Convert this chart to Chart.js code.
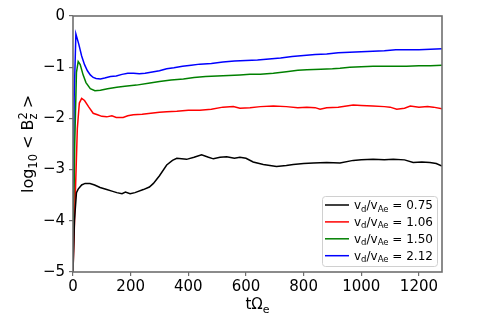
<!DOCTYPE html>
<html lang="en">
<head>
<meta charset="UTF-8">
<title>log10 Bz^2</title>
<script src="https://cdn.jsdelivr.net/npm/chart.js"></script>
<style>
  html, body { margin: 0; padding: 0; background: #fff; }
  #wrap { width: 491px; height: 320px; }
</style>
</head>
<body>
<div id="wrap"><canvas id="myChart" width="491" height="320"></canvas></div>
<script>
// --- data ---
const xTicks = [0, 200, 400, 600, 800, 1000, 1200];
const yTicks = [-5, -4, -3, -2, -1, 0];
const ratios = ['0.75', '1.06', '1.50', '2.12'];

const blackT = [0, 5, 12, 18, 30, 42, 59, 75, 94, 117, 135, 152, 170, 182, 198, 215, 244, 265, 279, 300, 325, 345, 360, 394, 420, 446, 470, 487, 510, 533, 560, 579, 600, 625, 660, 706, 740, 764, 800, 834, 880, 926, 972, 1000, 1041, 1080, 1111, 1150, 1180, 1210, 1238, 1260, 1280];
const blackV = [-5, -4.0, -3.45, -3.38, -3.3, -3.27, -3.27, -3.3, -3.35, -3.39, -3.42, -3.45, -3.47, -3.44, -3.47, -3.45, -3.39, -3.34, -3.27, -3.12, -2.91, -2.82, -2.78, -2.8, -2.76, -2.71, -2.76, -2.79, -2.76, -2.75, -2.78, -2.76, -2.78, -2.85, -2.9, -2.94, -2.92, -2.9, -2.88, -2.87, -2.86, -2.87, -2.82, -2.81, -2.8, -2.81, -2.8, -2.81, -2.86, -2.85, -2.86, -2.88, -2.93];

const redT = [0, 8, 15, 22, 30, 40, 55, 70, 85, 100, 117, 135, 150, 174, 190, 209, 240, 270, 300, 325, 360, 400, 440, 480, 520, 556, 579, 614, 650, 695, 740, 780, 811, 840, 857, 880, 920, 972, 1000, 1040, 1080, 1100, 1123, 1150, 1170, 1200, 1230, 1250, 1280];
const redV = [-5, -3.5, -2.2, -1.7, -1.61, -1.65, -1.78, -1.9, -1.93, -1.96, -1.97, -1.95, -1.98, -1.98, -1.95, -1.93, -1.92, -1.9, -1.88, -1.87, -1.86, -1.84, -1.84, -1.82, -1.78, -1.77, -1.8, -1.79, -1.77, -1.76, -1.77, -1.79, -1.78, -1.79, -1.82, -1.79, -1.78, -1.74, -1.75, -1.76, -1.77, -1.78, -1.82, -1.8, -1.76, -1.78, -1.77, -1.78, -1.81];

const greenT = [0, 6, 12, 18, 25, 35, 45, 60, 76, 95, 120, 152, 180, 220, 267, 300, 340, 383, 420, 460, 500, 540, 579, 614, 650, 695, 740, 780, 811, 860, 900, 926, 960, 1000, 1041, 1080, 1120, 1157, 1200, 1240, 1280];
const greenV = [-5, -2.5, -1.1, -0.89, -0.95, -1.15, -1.3, -1.42, -1.46, -1.45, -1.42, -1.39, -1.37, -1.35, -1.31, -1.28, -1.25, -1.23, -1.2, -1.18, -1.17, -1.16, -1.15, -1.14, -1.14, -1.12, -1.09, -1.06, -1.05, -1.04, -1.03, -1.02, -1.0, -0.99, -0.98, -0.98, -0.98, -0.98, -0.97, -0.97, -0.96];

const blueT = [0, 4, 10, 20, 30, 40, 50, 60, 70, 80, 95, 110, 130, 150, 170, 190, 210, 230, 250, 270, 300, 325, 350, 380, 410, 440, 480, 520, 560, 600, 640, 680, 720, 760, 800, 840, 880, 920, 960, 1000, 1040, 1080, 1120, 1160, 1200, 1240, 1280];
const blueV = [-5, -1.6, -0.35, -0.55, -0.78, -0.95, -1.07, -1.15, -1.2, -1.22, -1.23, -1.21, -1.18, -1.17, -1.14, -1.12, -1.12, -1.13, -1.12, -1.1, -1.07, -1.03, -1.01, -0.98, -0.96, -0.94, -0.93, -0.9, -0.88, -0.87, -0.86, -0.84, -0.82, -0.79, -0.77, -0.75, -0.74, -0.72, -0.71, -0.7, -0.69, -0.68, -0.66, -0.66, -0.66, -0.65, -0.64];

const colors = ['#000000', '#ff0000', '#008000', '#0000ff'];
const FONT = '"DejaVu Sans", sans-serif';
const SPINE = '#6e6e6e';

function pts(t, v) { return t.map((x, i) => ({ x: x, y: v[i] })); }
const series = [[blackT, blackV], [redT, redV], [greenT, greenV], [blueT, blueV]];

// spines, axis titles and legend drawn by hand (sub/superscripts)
const decor = {
  id: 'decor',
  afterDatasetsDraw(chart) {
    const ctx = chart.ctx;
    const a = chart.chartArea;
    ctx.save();
    ctx.strokeStyle = SPINE;
    ctx.lineWidth = 1.6;
    ctx.strokeRect(a.left, a.top, a.right - a.left, a.bottom - a.top);

    // x title: tΩe
    ctx.fillStyle = '#000';
    ctx.textBaseline = 'alphabetic';
    ctx.textAlign = 'left';
    const main = 't\u03A9';
    ctx.font = '15px ' + FONT;
    const mw = ctx.measureText(main).width;
    ctx.font = '11px ' + FONT;
    const sw = ctx.measureText('e').width;
    const x0 = (a.left + a.right) / 2 - (mw + sw) / 2;
    ctx.font = '15px ' + FONT;
    ctx.fillText(main, x0, 309);
    ctx.font = '11px ' + FONT;
    ctx.fillText('e', x0 + mw, 313);

    // y title: log10 < Bz^2 >
    ctx.translate(33, (a.top + a.bottom) / 2);
    ctx.rotate(-Math.PI / 2);
    const parts = [
      ['log', 16, 0], ['10', 11.5, 4], [' < B', 16, 0], ['2', 11.5, -6.5, true], ['z', 11.5, 4], [' >', 16, 0]
    ];
    let total = 0;
    const widths = [];
    for (const p of parts) {
      ctx.font = p[1] + 'px ' + FONT;
      const w = ctx.measureText(p[0]).width;
      widths.push(w);
      if (!p[3]) total += w;
    }
    let cx = -total / 2;
    parts.forEach((p, i) => {
      ctx.font = p[1] + 'px ' + FONT;
      ctx.fillText(p[0], cx, p[2]);
      if (!p[3]) cx += widths[i];
    });
    ctx.restore();

    // legend box
    ctx.save();
    const bx = 322, by = 196, bw = 115, bh = 70;
    ctx.fillStyle = 'rgba(255,255,255,0.8)';
    ctx.strokeStyle = '#d0d0d0';
    ctx.lineWidth = 1;
    ctx.beginPath();
    ctx.roundRect(bx + 0.5, by + 0.5, bw, bh, 3);
    ctx.fill();
    ctx.stroke();
    ratios.forEach((r, i) => {
      const y = 205 + i * 16.9;
      ctx.strokeStyle = colors[i];
      ctx.lineWidth = 1.5;
      ctx.beginPath();
      ctx.moveTo(325, y);
      ctx.lineTo(349, y);
      ctx.stroke();
      ctx.fillStyle = '#000';
      let x = 354;
      const base = y + 4;
      ctx.font = '12px ' + FONT;
      ctx.fillText('v', x, base); x += ctx.measureText('v').width;
      ctx.font = '8.5px ' + FONT;
      ctx.fillText('d', x, base + 2.5); x += ctx.measureText('d').width;
      ctx.font = '12px ' + FONT;
      ctx.fillText('/v', x, base); x += ctx.measureText('/v').width;
      ctx.font = '8.5px ' + FONT;
      ctx.fillText('Ae', x, base + 2.5); x += ctx.measureText('Ae').width;
      ctx.font = '12px ' + FONT;
      ctx.fillText(' = ' + r, x, base);
    });
    ctx.restore();
  }
};

new Chart(document.getElementById('myChart').getContext('2d'), {
  type: 'line',
  data: {
    datasets: series.map((s, i) => ({
      label: 'vd/vAe = ' + ratios[i],
      data: pts(s[0], s[1]),
      borderColor: colors[i],
      backgroundColor: colors[i],
      borderWidth: 1.5,
      pointRadius: 0,
      tension: 0,
      fill: false
    }))
  },
  options: {
    responsive: false,
    animation: false,
    layout: { padding: { left: 0, top: 16, right: 49, bottom: 0 } },
    plugins: { legend: { display: false }, tooltip: { enabled: false } },
    scales: {
      x: {
        type: 'linear',
        min: 0,
        max: 1280,
        afterBuildTicks: s => { s.ticks = xTicks.map(v => ({ value: v })); },
        afterFit: s => { s.height = 48; },
        border: { display: false },
        grid: { display: true, drawOnChartArea: false, drawTicks: true, tickLength: 4, color: SPINE, lineWidth: 1.2 },
        ticks: {
          color: '#000', font: { family: FONT, size: 15 }, padding: 2, maxRotation: 0,
          callback: v => String(v)
        }
      },
      y: {
        min: -5,
        max: 0,
        afterBuildTicks: s => { s.ticks = yTicks.map(v => ({ value: v })); },
        afterFit: s => { s.width = 73; },
        border: { display: false },
        grid: { display: true, drawOnChartArea: false, drawTicks: true, tickLength: 4, color: SPINE, lineWidth: 1.2 },
        ticks: {
          color: '#000', font: { family: FONT, size: 15 }, padding: 4,
          callback: v => (v < 0 ? '\u2212' + Math.abs(v) : String(v))
        }
      }
    }
  },
  plugins: [decor]
});
</script>
</body>
</html>
